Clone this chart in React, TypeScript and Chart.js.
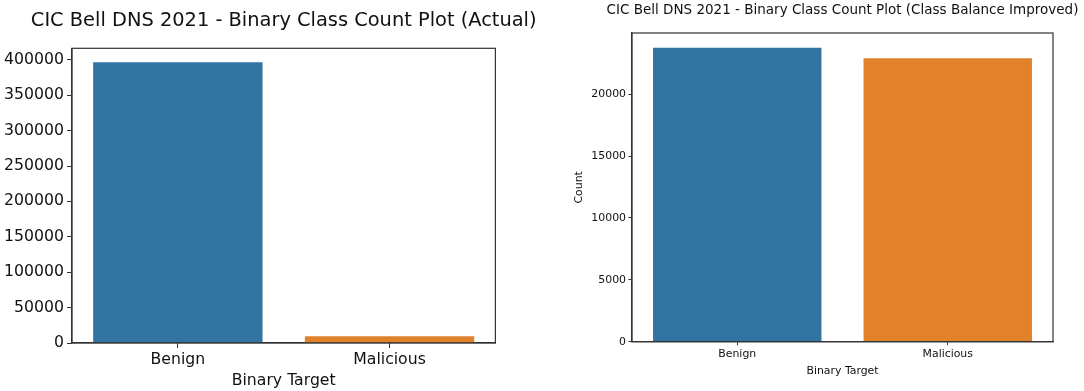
import { useEffect, useRef } from "react";
import { Chart, registerables } from "chart.js";

Chart.register(...registerables);

const categories = ["Benign", "Malicious"];
const actualCounts = [396500, 9400];
const balancedCounts = [23750, 22890];
const actualTicks = [0, 50000, 100000, 150000, 200000, 250000, 300000, 350000, 400000];
const balancedTicks = [0, 5000, 10000, 15000, 20000];
const barColors = ["#3274A1", "#E1812C"];

const FONT = "'DejaVu Sans', sans-serif";

const framePlugin = {
  id: "frame",
  afterDatasetsDraw(chart: any) {
    const { ctx, chartArea } = chart;
    ctx.save();
    ctx.strokeStyle = "#333";
    ctx.lineWidth = 1.2;
    ctx.strokeRect(chartArea.left, chartArea.top, chartArea.right - chartArea.left, chartArea.bottom - chartArea.top);
    ctx.restore();
  },
};

// Axes title centred over the plot area (like matplotlib's ax.set_title)
const axesTitlePlugin = {
  id: "axesTitle",
  afterDraw(chart: any, _args: any, opts: any) {
    const { ctx, chartArea } = chart;
    ctx.save();
    ctx.fillStyle = "#111";
    ctx.font = `normal ${opts.size}px ${FONT}`;
    ctx.textAlign = "center";
    ctx.textBaseline = "middle";
    ctx.fillText(opts.text, (chartArea.left + chartArea.right) / 2, opts.y);
    ctx.restore();
  },
};

type Opts = {
  title: string;
  titleSize: number;
  titleY: number;
  topPad: number;
  values: number[];
  ticks: number[];
  yMax: number;
  tickSize: number;
  yWidth: number;
  xHeight: number;
  rightPad: number;
  tickLen: number;
  tickPad: number;
  xTitlePadBottom: number;
  yTitle?: string;
  yTitlePadTop?: number;
};

function makeConfig(o: Opts): any {
  return {
    type: "bar",
    data: {
      labels: categories,
      datasets: [
        {
          data: o.values,
          backgroundColor: barColors,
          borderWidth: 0,
          categoryPercentage: 1,
          barPercentage: 0.8,
        },
      ],
    },
    options: {
      responsive: false,
      animation: false,
      devicePixelRatio: 1,
      layout: { padding: { left: 0, right: o.rightPad, top: o.topPad, bottom: 0 } },
      plugins: {
        legend: { display: false },
        tooltip: { enabled: false },
        title: { display: false },
        axesTitle: { text: o.title, size: o.titleSize, y: o.titleY },
      },
      scales: {
        x: {
          offset: true,
          grid: {
            display: true,
            offset: false,
            drawOnChartArea: false,
            drawTicks: true,
            tickLength: o.tickLen,
            color: "#333",
          },
          border: { display: true, color: "#333", width: 1.2 },
          ticks: {
            color: "#111",
            font: { family: FONT, size: o.tickSize },
            padding: o.tickPad,
            maxRotation: 0,
          },
          title: {
            display: true,
            text: "Binary Target",
            color: "#111",
            font: { family: FONT, size: o.tickSize },
            padding: { top: 0, bottom: o.xTitlePadBottom },
          },
          afterFit: (s: any) => {
            s.height = o.xHeight;
          },
        },
        y: {
          min: 0,
          max: o.yMax,
          grid: {
            display: true,
            drawOnChartArea: false,
            drawTicks: true,
            tickLength: o.tickLen,
            color: "#333",
          },
          border: { display: true, color: "#333", width: 1.2 },
          ticks: {
            color: "#111",
            font: { family: FONT, size: o.tickSize },
            padding: o.tickPad,
            callback: (v: any) => String(v),
          },
          title: {
            display: !!o.yTitle,
            text: o.yTitle || "",
            color: "#111",
            font: { family: FONT, size: o.tickSize },
            padding: { top: o.yTitlePadTop || 0, bottom: 0 },
          },
          afterBuildTicks: (s: any) => {
            s.ticks = o.ticks.map((v) => ({ value: v }));
          },
          afterFit: (s: any) => {
            s.width = o.yWidth;
          },
        },
      },
    },
    plugins: [framePlugin, axesTitlePlugin],
  };
}

export default function App() {
  const leftRef = useRef<HTMLCanvasElement>(null);
  const rightRef = useRef<HTMLCanvasElement>(null);

  useEffect(() => {
    const left = new Chart(
      leftRef.current!,
      makeConfig({
        title: "CIC Bell DNS 2021 - Binary Class Count Plot (Actual)",
        titleSize: 19.4,
        titleY: 21,
        topPad: 48.3,
        values: actualCounts,
        ticks: actualTicks,
        yMax: 416325,
        tickSize: 15.7,
        yWidth: 72,
        xHeight: 48,
        rightPad: 44.6,
        tickLen: 5,
        tickPad: 3,
        xTitlePadBottom: 0.6,
      })
    );
    const right = new Chart(
      rightRef.current!,
      makeConfig({
        title: "CIC Bell DNS 2021 - Binary Class Count Plot (Class Balance Improved)",
        titleSize: 13.5,
        titleY: 10.5,
        topPad: 33,
        values: balancedCounts,
        ticks: balancedTicks,
        yMax: 24938,
        tickSize: 10.9,
        yWidth: 92,
        xHeight: 49.3,
        rightPad: 31,
        tickLen: 3.5,
        tickPad: 2.5,
        xTitlePadBottom: 13.2,
        yTitle: "Count",
        yTitlePadTop: 32.5,
      })
    );
    return () => {
      left.destroy();
      right.destroy();
    };
  }, []);

  return (
    <div style={{ position: "absolute", left: 0, top: 0, width: 1084, height: 391, background: "#fff" }}>
      <canvas ref={leftRef} width={540} height={391} style={{ position: "absolute", left: 0, top: 0, width: 540, height: 391 }} />
      <canvas ref={rightRef} width={544} height={391} style={{ position: "absolute", left: 540, top: 0, width: 544, height: 391 }} />
    </div>
  );
}
